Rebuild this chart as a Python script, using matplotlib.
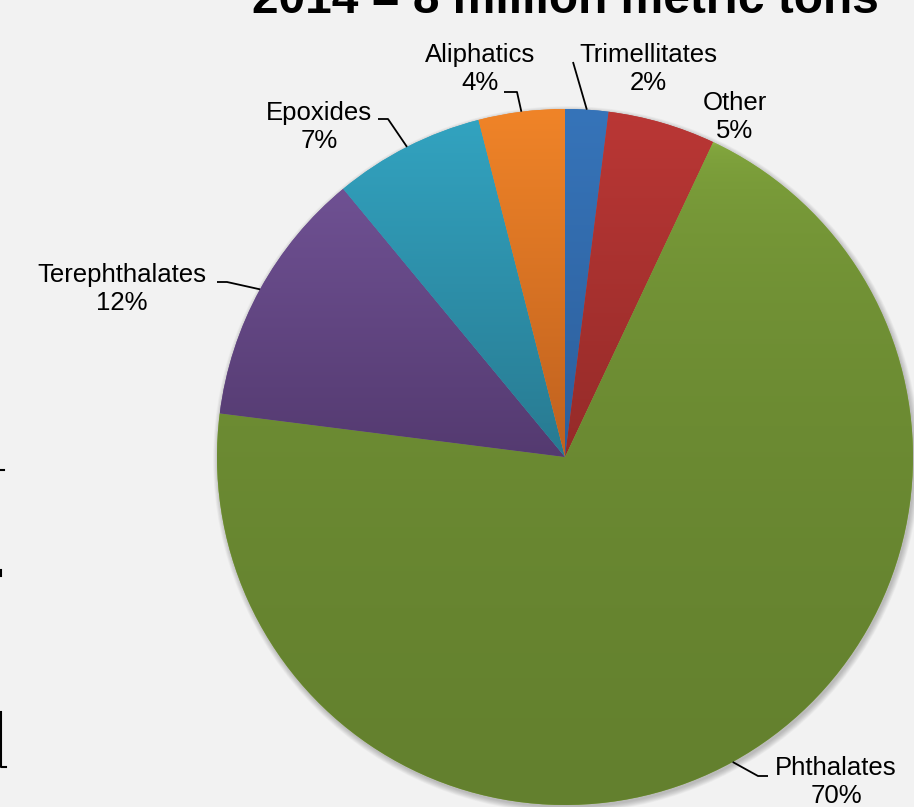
import numpy as np
import matplotlib
matplotlib.use('Agg')
from matplotlib import pyplot as plt
from matplotlib.patches import Circle
from matplotlib.colors import to_rgb

plt.rcParams['font.family'] = ['Liberation Sans', 'DejaVu Sans']

# data, clockwise from 12 o'clock
categories = ['Trimellitates', 'Other', 'Phthalates', 'Terephthalates', 'Epoxides', 'Aliphatics']
shares = [2, 5, 70, 12, 7, 4]
title = '2014 = 8 million metric tons'

# colours: top / bottom of each slice's gradient, and how fast it darkens
top_colors = ['#3674B9', '#BA3735', '#8BB142', '#6F5193', '#32A3C0', '#F08428']
bot_colors = ['#2D5F9C', '#952B29', '#63802E', '#543A70', '#287A91', '#BF611F']
grad_exp = [1, 1, 0.3, 1, 1, 1]

# layout in pixels (y measured from top of picture)
W, H = 914, 807
cx, cy, r = 565, 457, 348
label_pos = [(648, 69), (735, 117), (836, 782), (122, 289), (319, 127), (480, 69)]
elbows = [None, None, [(768, 776), (758, 776)], [(217, 282), (227, 282)],
          [(378, 119), (388, 119)], [(504, 92), (517, 92)]]
leader_start = [(573, 62), None, None, None, None, None]

fig = plt.figure(figsize=(W / 100, H / 100), dpi=100)
fig.patch.set_facecolor('#F2F2F2')
ax = fig.add_axes([0, 0, 1, 1])
ax.patch.set_alpha(0)

# soft shadow behind the pie
for i in range(10):
    ax.add_patch(Circle((cx + 1.5, H - cy - 2.5), r + 0.6 * i, color='black',
                        alpha=0.025, lw=0, zorder=0))

wedges, _ = ax.pie(shares, colors=top_colors, startangle=90, counterclock=False,
                   center=(cx, H - cy), radius=r, frame=True,
                   wedgeprops=dict(linewidth=0))

# vertical gradient inside each wedge
for w, ct, cb, ge in zip(wedges, top_colors, bot_colors, grad_exp):
    w.set_zorder(1)
    bb = w.get_path().get_extents()
    t = np.linspace(0, 1, 256)[:, None] ** ge
    grad = (1 - t) * np.array(to_rgb(ct)) + t * np.array(to_rgb(cb))
    im = ax.imshow(grad[:, None, :], extent=(bb.x0, bb.x1, bb.y0, bb.y1),
                   origin='upper', aspect='auto', zorder=2, interpolation='bilinear')
    im.set_clip_path(w)

# labels and leader lines
cum = np.cumsum([0] + shares[:-1])
for i, (name, s) in enumerate(zip(categories, shares)):
    mid = np.deg2rad(90 - (cum[i] + s / 2) / sum(shares) * 360)
    ex, ey = cx + r * np.cos(mid), cy - r * np.sin(mid)
    lx, ly = label_pos[i]
    ax.text(lx, H - ly, f'{name}\n{s}%', ha='center', va='center', fontsize=18.5,
            linespacing=1.2, color='black', zorder=5)
    pts = None
    if elbows[i] is not None:
        pts = elbows[i] + [(ex, ey)]
    elif leader_start[i] is not None:
        pts = [leader_start[i], (ex, ey)]
    if pts:
        ax.plot([p[0] for p in pts], [H - p[1] for p in pts], color='black',
                lw=1.3, zorder=5, solid_capstyle='butt')

# title, cut at the top of the picture
ax.text(cx, H - 13, title, ha='center', va='baseline', fontsize=34.5,
        fontweight='bold', color='black', zorder=5)

# stray marks at left edge
ax.plot([0, 4], [H - 470, H - 470], color='black', lw=1.5)
ax.plot([0.5, 0.5], [H - 570, H - 576], color='black', lw=1.5)
ax.plot([1, 1, 6], [H - 712, H - 767, H - 767], color='black', lw=1.5)

ax.set_xlim(0, W)
ax.set_ylim(0, H)
ax.axis('off')

plt.savefig('out.png', dpi=100, facecolor=fig.get_facecolor())
